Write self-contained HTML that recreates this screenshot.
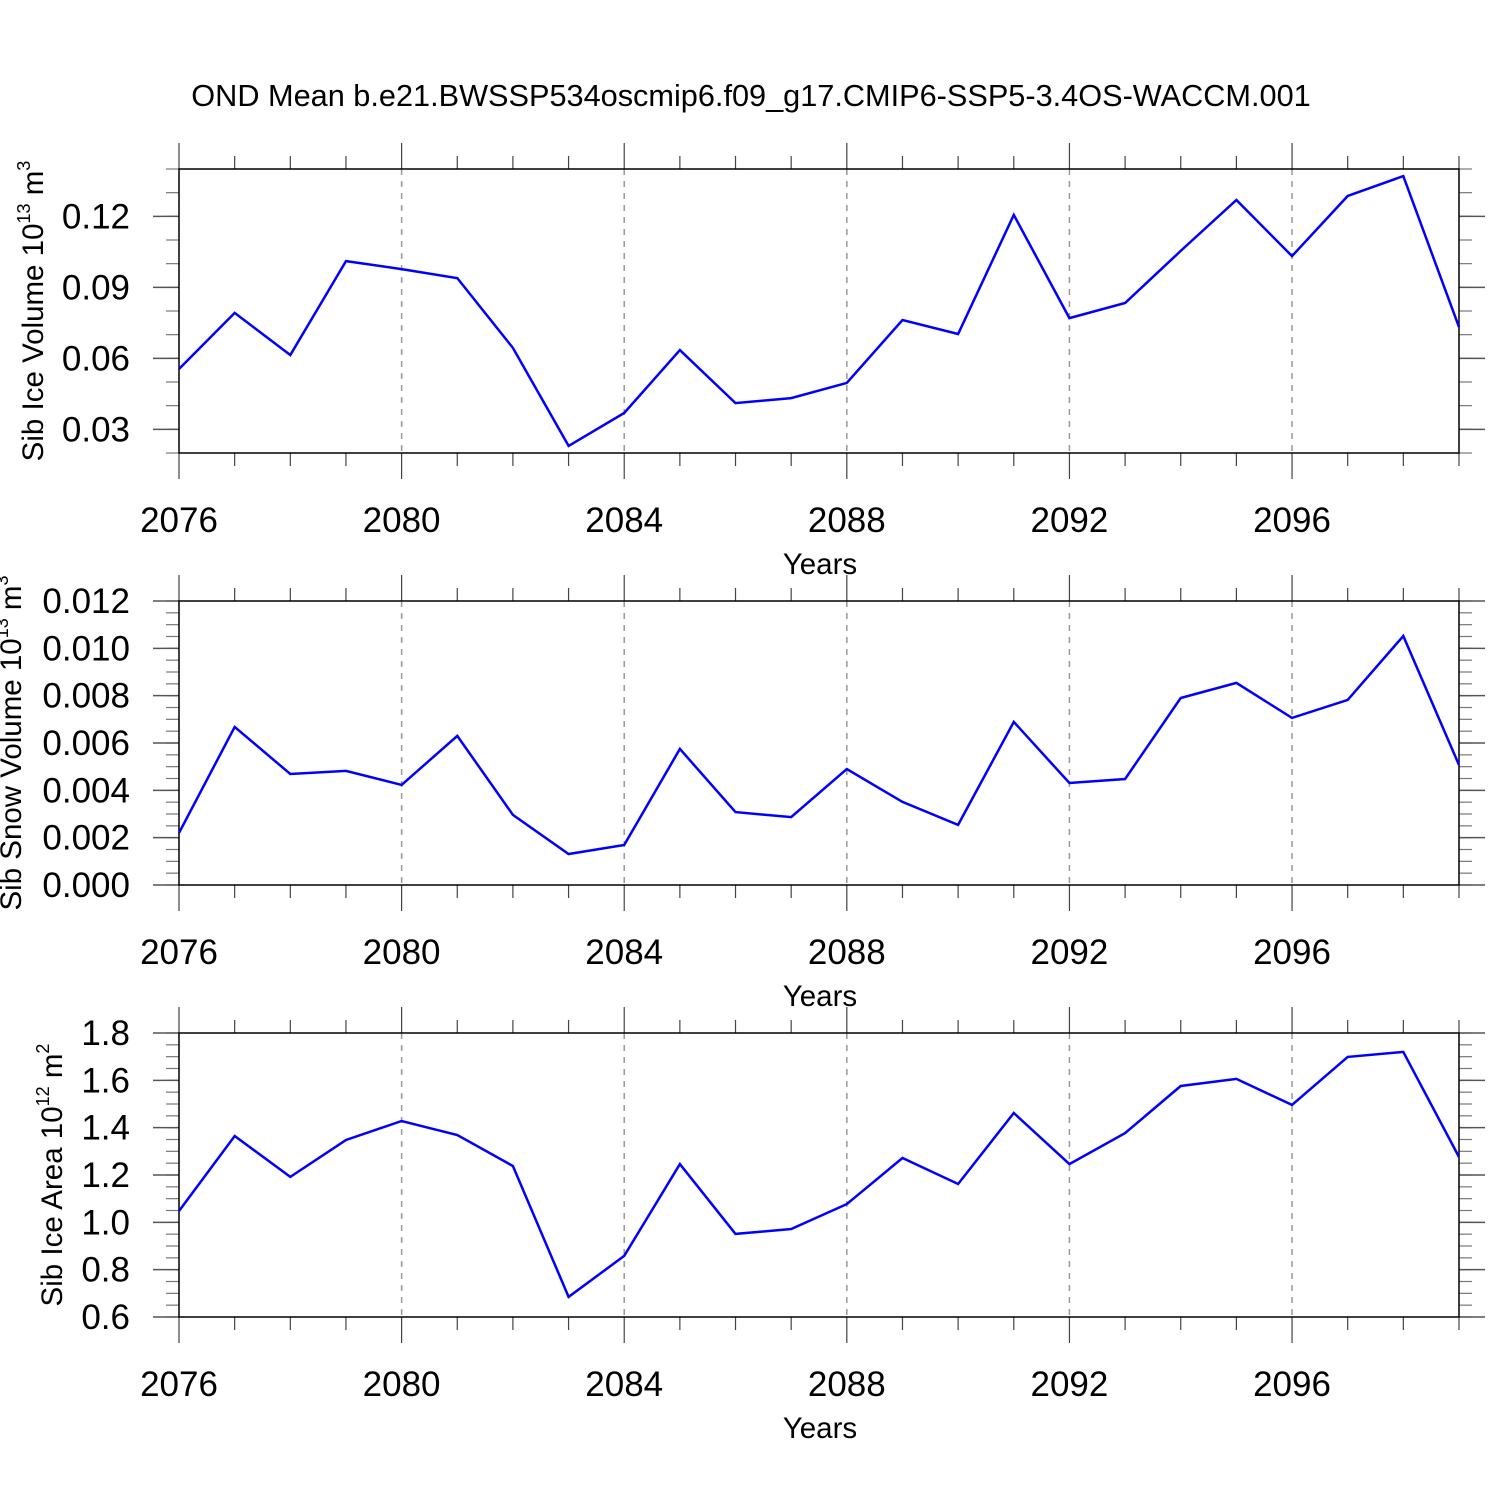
<!DOCTYPE html>
<html><head><meta charset="utf-8"><style>
html,body{margin:0;padding:0;background:#fff;}
svg text{font-family:"Liberation Sans",Helvetica,sans-serif;fill:#000;}
</style></head>
<body>
<svg id="chart" width="1500" height="1500" viewBox="0 0 1500 1500" xmlns="http://www.w3.org/2000/svg">
<text x="751" y="106" font-size="30.7" text-anchor="middle">OND Mean b.e21.BWSSP534oscmip6.f09_g17.CMIP6-SSP5-3.4OS-WACCM.001</text>
</svg>
<script>
const years = [2076,2077,2078,2079,2080,2081,2082,2083,2084,2085,2086,2087,2088,2089,2090,2091,2092,2093,2094,2095,2096,2097,2098,2099];
const iceVolume = [0.0555,0.0792,0.0614,0.1011,0.0977,0.0939,0.0644,0.0230,0.0369,0.0635,0.0411,0.0432,0.0496,0.0762,0.0703,0.1206,0.0770,0.0834,0.1054,0.1269,0.1032,0.1286,0.1370,0.0732];
const snowVolume = [0.00220,0.00668,0.00469,0.00482,0.00423,0.00630,0.00296,0.00131,0.00169,0.00575,0.00308,0.00287,0.00490,0.00351,0.00254,0.00689,0.00431,0.00448,0.00790,0.00854,0.00706,0.00782,0.01052,0.00507];
const iceArea = [1.048,1.365,1.192,1.348,1.428,1.369,1.238,0.685,0.858,1.246,0.951,0.972,1.077,1.272,1.162,1.462,1.246,1.377,1.576,1.606,1.496,1.699,1.720,1.276];
const xTickLabels = ["2076","2080","2084","2088","2092","2096"];
const volTicks = ["0.03","0.06","0.09","0.12"];
const snowTicks = ["0.000","0.002","0.004","0.006","0.008","0.010","0.012"];
const areaTicks = ["0.6","0.8","1.0","1.2","1.4","1.6","1.8"];

const NS="http://www.w3.org/2000/svg";
const svg=document.getElementById('chart');
function mk(tag,attrs,parent){const e=document.createElementNS(NS,tag);for(const k in attrs)e.setAttribute(k,attrs[k]);(parent||svg).appendChild(e);return e;}

const X0=179,X1=1459,xMin=2076,xMax=2099;
function xs(v){return X0+(v-xMin)/(xMax-xMin)*(X1-X0);}

function panel(name,top,yMin,yMax,ticks,minorStep,values,titleParts,titleX){
  const bot=top+284;
  const g=mk('g',{});
  
  
  const ys=v=>bot-(v-yMin)/(yMax-yMin)*284;
  for(let y=2080;y<=2096;y+=4){
    const l=mk('line',{x1:xs(y),x2:xs(y),y1:top,y2:bot,stroke:'#999','stroke-width':1.5,'stroke-dasharray':'6,6'},g);
    
    
  }
  for(let y=xMin;y<=xMax;y++){
    const major=(y-xMin)%4===0;
    const len=major?26:13;
    mk('line',{x1:xs(y),x2:xs(y),y1:top-len,y2:top,stroke:'#444','stroke-width':1.2},g);
    mk('line',{x1:xs(y),x2:xs(y),y1:bot,y2:bot+len,stroke:'#444','stroke-width':1.2},g);
  }
  xTickLabels.forEach(s=>{
    const t=mk('text',{x:xs(+s),y:bot+79,'font-size':35,'text-anchor':'middle'},g);
    t.textContent=s;
    
    
  });
  const xt=mk('text',{x:820,y:bot+121,'font-size':29.5,'text-anchor':'middle'},g);
  xt.textContent='Years';
  
  
  const n=Math.round((yMax-yMin)/minorStep);
  for(let i=0;i<=n;i++){
    const v=yMin+i*minorStep;const y=ys(v);
    mk('line',{x1:X0-13,x2:X0,y1:y,y2:y,stroke:'#777','stroke-width':1.2},g);
    mk('line',{x1:X1,x2:X1+13,y1:y,y2:y,stroke:'#777','stroke-width':1.2},g);
  }
  ticks.forEach(s=>{
    const y=ys(+s);
    mk('line',{x1:X0-26,x2:X0,y1:y,y2:y,stroke:'#555','stroke-width':1.5},g);
    mk('line',{x1:X1,x2:X1+26,y1:y,y2:y,stroke:'#555','stroke-width':1.5},g);
    const t=mk('text',{x:X0-49,y:y+12,'font-size':35,'text-anchor':'end'},g);
    t.textContent=s;
    
    
  });
  const r=mk('rect',{x:X0,y:top,width:X1-X0,height:284,fill:'none',stroke:'#000','stroke-width':1.5},g);
  
  
  const pts=years.map((yr,i)=>xs(yr).toFixed(1)+','+ys(values[i]).toFixed(1)).join(' ');
  const pl=mk('polyline',{points:pts,fill:'none',stroke:'#0000ff','stroke-width':2.5,'stroke-linejoin':'miter'},g);
  
  
  const cy=top+142;
  const t=mk('text',{x:0,y:0,'font-size':29.5,'text-anchor':'middle',transform:`translate(${titleX},${cy}) rotate(-90)`},g);
  
  
  const a=mk('tspan',{},t);a.textContent=titleParts[0];
  const b=mk('tspan',{'font-size':18,dy:-13},t);b.textContent=titleParts[1];
  const c=mk('tspan',{dy:13},t);c.textContent=' '+titleParts[2];
  const d=mk('tspan',{'font-size':18,dy:-13},t);d.textContent=titleParts[3];
}
panel('ice-volume',169,0.02,0.14,volTicks,0.01,iceVolume,['Sib Ice Volume 10','13','m','3'],43);
panel('snow-volume',601,0,0.012,snowTicks,0.0005,snowVolume,['Sib Snow Volume 10','13','m','3'],21);
panel('ice-area',1033,0.6,1.8,areaTicks,0.05,iceArea,['Sib Ice Area 10','12','m','2'],62);
</script>
</body></html>
